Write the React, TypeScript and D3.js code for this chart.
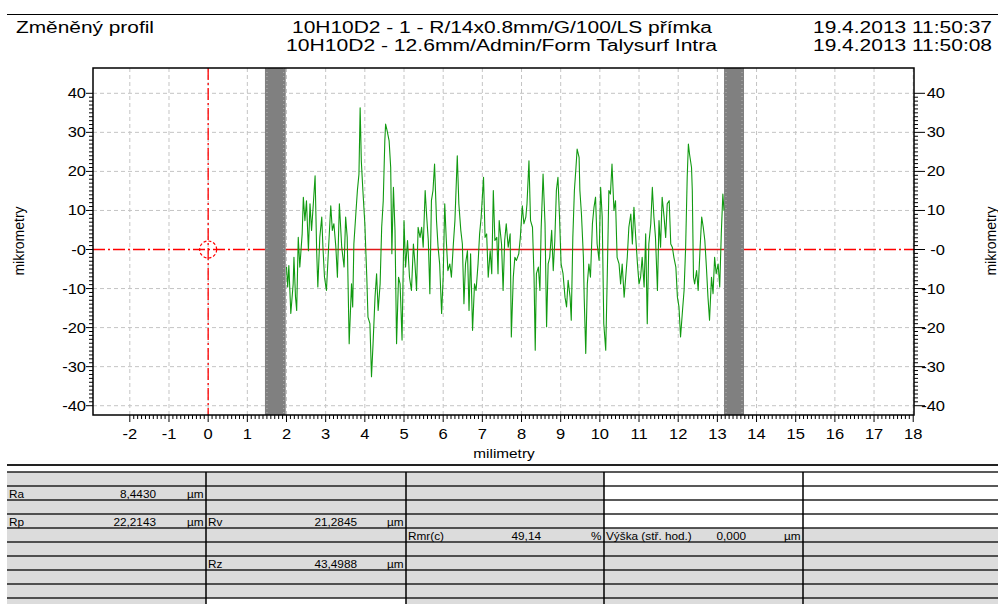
import React from "react";
import * as d3 from "d3";

// filtered roughness profile, [position mm, height µm]
const profile: [number, number][] = [
  [2.00, -4.5], [2.03, -9.6], [2.06, -4.1], [2.11, -16.4], [2.17, -8.8], [2.19, -2.0], [2.23, -12.2],
  [2.26, -15.6], [2.30, 3.1], [2.34, -4.5], [2.40, 4.0], [2.43, 13.4], [2.47, 7.4], [2.51, 12.5],
  [2.56, -0.3], [2.60, 11.7], [2.64, 4.9], [2.69, 12.5], [2.73, 18.9], [2.77, -0.3], [2.80, -9.6],
  [2.85, 3.1], [2.90, 8.3], [2.93, 0.6], [2.97, -7.1], [3.02, -10.5], [3.07, -0.3], [3.13, 11.2],
  [3.17, 4.9], [3.21, 6.6], [3.26, 0.6], [3.30, -7.1], [3.35, 11.7], [3.41, 0.6], [3.47, -4.5],
  [3.51, 8.3], [3.55, 3.1], [3.60, -24.1], [3.66, -8.8], [3.69, -14.7], [3.72, 1.4], [3.77, 9.1],
  [3.81, 15.1], [3.85, 19.3], [3.88, 36.3], [3.91, 22.7], [3.95, 15.1], [4.00, 6.6], [4.05, -7.1],
  [4.08, -17.3], [4.13, -19.0], [4.17, -32.6], [4.21, -24.1], [4.26, -12.2], [4.30, -6.2], [4.34, -15.6],
  [4.39, -8.8], [4.43, 5.7], [4.47, 12.5], [4.51, 27.8], [4.53, 32.1], [4.57, 30.4], [4.62, 27.8],
  [4.66, 21.0], [4.69, -1.1], [4.73, 15.9], [4.77, 4.9], [4.81, -24.1], [4.86, -7.1], [4.90, -8.8],
  [4.95, -23.2], [5.00, 7.4], [5.04, -4.5], [5.09, 2.3], [5.14, -7.1], [5.19, -10.5], [5.24, 1.4],
  [5.28, -3.7], [5.32, -10.5], [5.36, 5.7], [5.41, 3.1], [5.45, 5.7], [5.49, 0.6], [5.54, 15.1],
  [5.58, 8.3], [5.62, 2.3], [5.66, -11.3], [5.70, 12.5], [5.74, 15.1], [5.78, 21.9], [5.83, 7.4],
  [5.87, 0.6], [5.91, -3.7], [5.96, -16.4], [6.00, -7.1], [6.04, 11.7], [6.08, 2.3], [6.12, -5.4],
  [6.17, -3.7], [6.21, -7.1], [6.26, 1.4], [6.30, 7.4], [6.36, 24.0], [6.40, 11.7], [6.45, 4.9],
  [6.49, 1.4], [6.53, -13.9], [6.57, -3.7], [6.62, -0.3], [6.66, -15.6], [6.70, -1.1], [6.75, -20.7],
  [6.80, -8.8], [6.84, -10.5], [6.89, -3.7], [6.93, 4.0], [6.97, 8.3], [7.03, 18.5], [7.07, 3.1],
  [7.11, 4.0], [7.15, -7.1], [7.20, -0.3], [7.24, -6.2], [7.28, 15.1], [7.32, 2.3], [7.37, 3.1],
  [7.40, -6.2], [7.43, 7.4], [7.49, 1.4], [7.53, -10.5], [7.57, 2.3], [7.61, 6.6], [7.66, 0.6],
  [7.71, 4.0], [7.74, -22.4], [7.79, -7.1], [7.83, -2.0], [7.87, -2.8], [7.93, -1.1], [7.97, 3.1],
  [8.02, 11.2], [8.06, 6.6], [8.11, 8.3], [8.14, 11.7], [8.19, 22.7], [8.23, 7.4], [8.28, 5.7],
  [8.32, -7.1], [8.35, -25.8], [8.38, -6.2], [8.43, -4.5], [8.47, -10.5], [8.50, 4.9], [8.55, 19.3],
  [8.60, 6.6], [8.64, -19.8], [8.68, -3.7], [8.72, -2.0], [8.77, 4.9], [8.81, -5.4], [8.85, 2.3],
  [8.89, 15.1], [8.93, 18.5], [8.97, 8.3], [9.01, -3.7], [9.06, -6.2], [9.11, -12.2], [9.15, -14.7],
  [9.19, -7.9], [9.24, -12.2], [9.27, -18.1], [9.31, 3.1], [9.35, 15.1], [9.39, 21.0], [9.42, 25.7],
  [9.47, 23.6], [9.49, 15.1], [9.53, 9.1], [9.58, -2.0], [9.60, -12.2], [9.64, -26.6], [9.68, -8.8],
  [9.72, -3.7], [9.76, -7.1], [9.81, 6.6], [9.85, 10.8], [9.89, 13.4], [9.93, 1.4], [9.98, -2.8],
  [10.02, 15.9], [10.06, 8.3], [10.10, -19.0], [10.15, -25.8], [10.19, -6.2], [10.23, 15.1], [10.27, 14.2],
  [10.31, 21.9], [10.36, 10.0], [10.40, 12.5], [10.44, -2.0], [10.49, -3.7], [10.53, -8.8], [10.57, -3.7],
  [10.62, -12.2], [10.66, -7.1], [10.70, -2.0], [10.74, 5.7], [10.79, 9.1], [10.83, 1.4], [10.87, 10.8],
  [10.91, 4.0], [10.96, -3.7], [11.00, -8.8], [11.04, -7.1], [11.08, -2.0], [11.13, -9.6], [11.17, 4.0],
  [11.21, -19.0], [11.25, 1.4], [11.30, 6.6], [11.34, 15.9], [11.38, 8.3], [11.42, 3.1], [11.47, -10.5],
  [11.51, 7.4], [11.55, 0.6], [11.59, 13.4], [11.64, 8.3], [11.68, 3.1], [11.72, 11.7], [11.77, 12.5],
  [11.81, 1.4], [11.85, 0.6], [11.89, -2.0], [11.94, -4.5], [11.98, -12.2], [12.02, -14.7], [12.06, -22.4],
  [12.11, -15.6], [12.15, -10.5], [12.19, 0.6], [12.23, 18.5], [12.26, 27.0], [12.29, 24.4], [12.34, 21.0],
  [12.36, 15.1], [12.39, -7.1], [12.42, -8.8], [12.47, -5.4], [12.51, -10.5], [12.56, 0.6], [12.60, 8.3],
  [12.64, 5.7], [12.68, 2.3], [12.72, -4.5], [12.76, -12.2], [12.80, -18.1], [12.85, -7.1], [12.89, -11.3],
  [12.93, -2.0], [12.97, -6.2], [13.02, -3.7], [13.06, -9.6], [13.10, 4.0], [13.14, 14.2], [13.17, 10.0],
];

const xTicks = [-2, -1, 0, 1, 2, 3, 4, 5, 6, 7, 8, 9, 10, 11, 12, 13, 14, 15, 16, 17, 18];
const yTicks = [40, 30, 20, 10, 0, -10, -20, -30, -40];
const yTickLabels = ["40", "30", "20", "10", "-0", "-10", "-20", "-30", "-40"];
// excluded ends of the trace (mm)
const cutoffBands: [number, number][] = [[1.45, 1.98], [13.17, 13.68]];

const titleLeft = "Změněný profil";
const titleMid = ["10H10D2 - 1 - R/14x0.8mm/G/100/LS přímka", "10H10D2 - 12.6mm/Admin/Form Talysurf Intra"];
const titleRight = ["19.4.2013 11:50:37", "19.4.2013 11:50:08"];

// results table
const paramNames = ["Ra", "Rp", "Rv", "Rz", "Rmr(c)", "Výška (stř. hod.)"];
const paramValues = ["8,4430", "22,2143", "21,2845", "43,4988", "49,14", "0,000"];
const paramUnits = ["µm", "µm", "µm", "µm", "%", "µm"];
const paramRow = [1, 3, 3, 6, 4, 4];
const paramCol = [0, 0, 1, 1, 2, 3];
const valueRight = [156, 156, 357, 357, 541, 746];

const FONT = "'Liberation Sans', Arial, sans-serif";
const SX = 1.18; // the report font is drawn a bit wide
const plot = { left: 93, right: 914, top: 68, bottom: 415 };
const colEdges = [7, 206, 406, 604, 803, 998];
const tableTop = 472;
const rowH = 14;
const nRows = 10;

const ST = ({ x, y, size, anchor = "start", fill = "#000", children }: any) => (
  <text transform={`translate(${x},${y}) scale(${SX},1)`} fontSize={size} textAnchor={anchor} fill={fill}>
    {children}
  </text>
);

export default function App() {
  const x = d3.scaleLinear().domain([-2.94, 18.02]).range([plot.left, plot.right]);
  const y = d3.scaleLinear().domain([-42.38, 46.48]).range([plot.bottom, plot.top]);
  const line = d3.line<[number, number]>().x(d => x(d[0])).y(d => y(d[1]));

  const xMinor = d3.range(-20, 181).filter(i => i % 10 !== 0).map(i => i / 10);
  const yMinor = d3.range(-40, 41).filter(v => v % 10 !== 0);

  const x0 = x(0), y0 = y(0);
  const redDash = "12,3,2,3";

  const isWhite = (r: number, c: number) => (c === 1 && r === 9) || (c >= 3 && r <= 3);

  return (
    <svg width={998} height={604} style={{ position: "absolute", left: 0, top: 0, display: "block", background: "#fff" }}
      fontFamily={FONT}>
      {/* header */}
      <line x1={7} x2={998} y1={14.5} y2={14.5} stroke="#000" strokeWidth={1.2} />
      <text x={16} y={33} fontSize={16} textLength={138} lengthAdjust="spacingAndGlyphs">{titleLeft}</text>
      <text x={292} y={33} fontSize={16} textLength={420} lengthAdjust="spacingAndGlyphs">{titleMid[0]}</text>
      <text x={286} y={51} fontSize={16} textLength={431} lengthAdjust="spacingAndGlyphs">{titleMid[1]}</text>
      <text x={813} y={33} fontSize={16} textLength={179} lengthAdjust="spacingAndGlyphs">{titleRight[0]}</text>
      <text x={813} y={51} fontSize={16} textLength={179} lengthAdjust="spacingAndGlyphs">{titleRight[1]}</text>

      {/* grid */}
      <g stroke="#c4c4c4" strokeWidth={1} strokeDasharray="4,3">
        {xTicks.map(v => <line key={"gx" + v} x1={x(v)} x2={x(v)} y1={plot.top} y2={plot.bottom} />)}
        {yTicks.filter(v => v !== 0).map(v => <line key={"gy" + v} x1={plot.left} x2={plot.right} y1={y(v)} y2={y(v)} />)}
      </g>

      {/* reference lines */}
      <g stroke="#ff0000" strokeWidth={1.5} fill="none">
        <line x1={x0} x2={x0} y1={plot.top} y2={plot.bottom} strokeDasharray={redDash} strokeWidth={1.3} />
        <line x1={plot.left} x2={x(cutoffBands[0][0])} y1={y0} y2={y0} strokeDasharray={redDash} />
        <line x1={x(cutoffBands[1][1])} x2={plot.right} y1={y0} y2={y0} strokeDasharray={redDash} />
        <circle cx={x0} cy={y0} r={8.5} strokeDasharray="3,2" strokeWidth={1.2} />
        <line x1={x(cutoffBands[0][1])} x2={x(cutoffBands[1][0])} y1={y0} y2={y0} stroke="#e01818" strokeWidth={1.7} />
      </g>

      {/* cut-off bands */}
      {cutoffBands.map(([a, b], i) => (
        <g key={"band" + i}>
          <rect x={x(a)} y={plot.top} width={x(b) - x(a)} height={plot.bottom - plot.top} fill="#808080" />
          <g stroke="#b4b4b4" strokeDasharray="1,3">
            <line x1={x(a) + 2} x2={x(a) + 2} y1={plot.top} y2={plot.bottom} />
            <line x1={x(b) - 2} x2={x(b) - 2} y1={plot.top} y2={plot.bottom} />
          </g>
        </g>
      ))}

      {/* profile */}
      <path d={line(profile) || ""} fill="none" stroke="#119a11" strokeWidth={1.1} strokeLinejoin="round" />

      {/* frame */}
      <rect x={plot.left} y={plot.top} width={plot.right - plot.left} height={plot.bottom - plot.top}
        fill="none" stroke="#000" strokeWidth={1.5} />

      {/* axes ticks */}
      <g stroke="#000" strokeWidth={1}>
        {yTicks.map(v => <line key={"ly" + v} x1={86} x2={plot.left} y1={y(v)} y2={y(v)} />)}
        {yMinor.map(v => <line key={"lym" + v} x1={89} x2={plot.left} y1={y(v)} y2={y(v)} />)}
        {yTicks.map(v => <line key={"ry" + v} x1={plot.right} x2={925} y1={y(v)} y2={y(v)} />)}
        {yMinor.map(v => <line key={"rym" + v} x1={plot.right} x2={918} y1={y(v)} y2={y(v)} />)}
        {xTicks.map(v => <line key={"bx" + v} x1={x(v)} x2={x(v)} y1={plot.bottom} y2={plot.bottom + 7} />)}
        {xMinor.map(v => <line key={"bxm" + v} x1={x(v)} x2={x(v)} y1={plot.bottom} y2={plot.bottom + 4} />)}
      </g>
      {yTicks.map((v, i) => (
        <ST key={"yl" + v} x={86} y={y(v) + 5} size={14} anchor="end">{yTickLabels[i]}</ST>
      ))}
      {yTicks.map((v, i) => (
        <ST key={"yr" + v} x={945} y={y(v) + 5} size={14} anchor="end">{yTickLabels[i]}</ST>
      ))}
      {xTicks.map(v => (
        <ST key={"xl" + v} x={x(v)} y={439} size={14} anchor="middle">{String(v)}</ST>
      ))}
      <ST x={504} y={458} size={13} anchor="middle">milimetry</ST>
      <text transform="translate(24,241) rotate(-90)" fontSize={14} textAnchor="middle">mikrometry</text>
      <text transform="translate(996,241) rotate(-90)" fontSize={14} textAnchor="middle">mikrometry</text>

      {/* results table */}
      <line x1={7} x2={998} y1={465} y2={465} stroke="#222" strokeWidth={2} />
      {d3.range(nRows).map(r =>
        colEdges.slice(0, -1).map((c, ci) => (
          <rect key={`c${r}-${ci}`} x={c} y={tableTop + r * rowH} width={colEdges[ci + 1] - c} height={rowH}
            fill={isWhite(r, ci) ? "#fff" : "#dcdcdc"} />
        ))
      )}
      {d3.range(nRows + 1).map(r => (
        <line key={"tr" + r} x1={7} x2={998} y1={tableTop + r * rowH} y2={tableTop + r * rowH} stroke="#222" strokeWidth={1.3} />
      ))}
      {colEdges.slice(1, -1).map(c => (
        <line key={"tc" + c} x1={c} x2={c} y1={tableTop} y2={604} stroke="#000" strokeWidth={1.5} />
      ))}
      {paramNames.map((n, i) => {
        const cl = colEdges[paramCol[i]];
        const cr = colEdges[paramCol[i] + 1];
        const by = tableTop + paramRow[i] * rowH + 11.5;
        return (
          <g key={"p" + i}>
            <ST x={cl + 2} y={by} size={10}>{n}</ST>
            <ST x={valueRight[i]} y={by} size={10} anchor="end">{paramValues[i]}</ST>
            <ST x={cr - 2.5} y={by} size={10} anchor="end">{paramUnits[i]}</ST>
          </g>
        );
      })}
    </svg>
  );
}
